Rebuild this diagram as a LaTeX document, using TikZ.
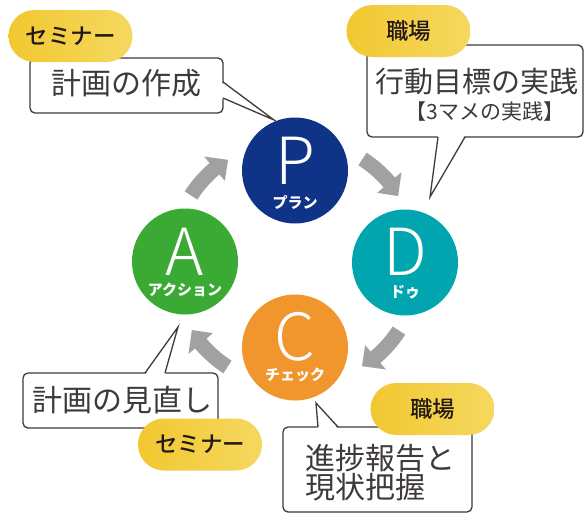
\documentclass[tikz,border=0pt]{standalone}
\usepackage{fontspec}
\setmainfont{Noto Sans CJK JP}
\IfFontExistsTF{Noto Sans CJK JP Light}{\newfontfamily\letterfont{Noto Sans CJK JP Light}}{\newfontfamily\letterfont{Noto Sans CJK JP}}
\IfFontExistsTF{Noto Sans CJK JP Medium}{\newfontfamily\pillfont{Noto Sans CJK JP Medium}}{\newfontfamily\pillfont{Noto Sans CJK JP}}
\definecolor{pblue}{RGB}{14,51,135}
\definecolor{dteal}{RGB}{0,165,175}
\definecolor{corange}{RGB}{240,150,45}
\definecolor{agreen}{RGB}{58,170,53}
\definecolor{agray}{RGB}{160,162,161}
\definecolor{pillL}{RGB}{242,200,48}
\definecolor{pillR}{RGB}{245,216,96}
\definecolor{inkc}{RGB}{35,24,21}
\definecolor{boxline}{RGB}{62,58,57}
\newcommand\cycarrow[2]{%
  \fill[agray] ({#1}:131.5) arc[start angle={#1}, end angle={#2-7.5}, radius=131.5]
    -- ({#2-7.5}:140) -- ({#2}:123) -- ({#2-7.5}:108) -- ({#2-7.5}:116.5)
    arc[start angle={#2-7.5}, end angle={#1}, radius=116.5] -- cycle;}
\tikzset{
  phase/.style={circle, inner sep=0pt, minimum size=106pt},
  letter/.style={text=white, inner sep=0pt, font=\letterfont\fontsize{65}{65}\selectfont},
  kana/.style={text=white, inner sep=0pt, font=\bfseries\fontsize{15}{15}\selectfont},
  pill/.style={left color=pillL, right color=pillR, rounded corners=26pt, minimum width=124pt,
    minimum height=52pt, inner sep=0pt, text=inkc, font=\pillfont\fontsize{22.5}{22.5}\selectfont},
  callbox/.style={draw=boxline, fill=white, line width=1.3pt, rounded corners=5pt},
  callside/.style={draw=boxline, line width=1.3pt},
  boxtext/.style={text=boxline, inner sep=0pt, font=\fontsize{30}{30}\selectfont},
}
\begin{document}
\begin{tikzpicture}[x=1pt, y=-1pt]
\useasboundingbox[fill=white] (0,0) rectangle (585,514);
% circles
\node[phase, fill=pblue] (P) at (295,170.5) {};
\node[phase, fill=dteal] (D) at (405,262.5) {};
\node[phase, fill=corange] (C) at (295,347.5) {};
\node[phase, fill=agreen] (A) at (185,261.5) {};
\node[letter] (Pl) at ([yshift=9.5pt]P.center) {P};
\node[letter] (Dl) at ([yshift=11pt]D.center) {D};
\node[letter] (Cl) at ([yshift=10.5pt]C.center) {C};
\node[letter] (Al) at ([yshift=10pt]A.center) {A};
\node[kana] (Pk) at ([yshift=-32.5pt]P.center) {プラン};
\node[kana] (Dk) at ([yshift=-29.5pt]D.center) {ドゥ};
\node[kana] (Ck) at ([yshift=-27.5pt]C.center) {チェック};
\node[kana] (Ak) at ([yshift=-28.5pt]A.center) {アクション};
% arrows
\begin{scope}[shift={(295,263)}]
\cycarrow{-57}{-33}
\cycarrow{33}{57}
\cycarrow{123}{147}
\cycarrow{213}{237}
\end{scope}
% callout 1
\coordinate (tip1) at (274,120);
\draw[callbox] (30,58) rectangle (223,113);
\fill[white] (221,82) -- (tip1) -- (221,98) -- cycle;
\draw[callside] (223,82) -- (tip1) -- (223,98);
\node[boxtext] (t1) at (126.5,83) {計画の作成};
\node[pill] (s1) at (70.5,36) {セミナー};
% callout 2
\coordinate (tip2) at (430,197);
\draw[callbox] (367,45) rectangle (583,137);
\fill[white] (438,135) -- (tip2) -- (465,135) -- cycle;
\draw[callside] (438,137) -- (tip2) -- (465,137);
\node[boxtext, font=\fontsize{29}{29}\selectfont] (t2) at (477,82) {行動目標の実践};
\node[boxtext, font=\fontsize{21}{21}\selectfont] (t2b) at (485,112) {【3マメの実践】};
\node[pill] (s2) at (408.5,31) {職場};
% callout 3
\coordinate (tip3) at (178,327);
\draw[callbox] (23,373) rectangle (218,428);
\fill[white] (145,375) -- (tip3) -- (165,375) -- cycle;
\draw[callside] (145,373) -- (tip3) -- (165,373);
\node[boxtext] (t3) at (122.5,400) {計画の見直し};
\node[pill] (s3) at (200,444.5) {セミナー};
% callout 4
\coordinate (tip4) at (316,403);
\draw[callbox] (283,427) rectangle (472,512);
\fill[white] (318,429) -- (tip4) -- (338,429) -- cycle;
\draw[callside] (318,427) -- (tip4) -- (338,427);
\node[boxtext, anchor=west] (t4) at (305,458) {進捗報告と};
\node[boxtext, anchor=west] (t4b) at (305,487) {現状把握};
\node[pill] (s4) at (432.5,409) {職場};
\end{tikzpicture}
\end{document}
